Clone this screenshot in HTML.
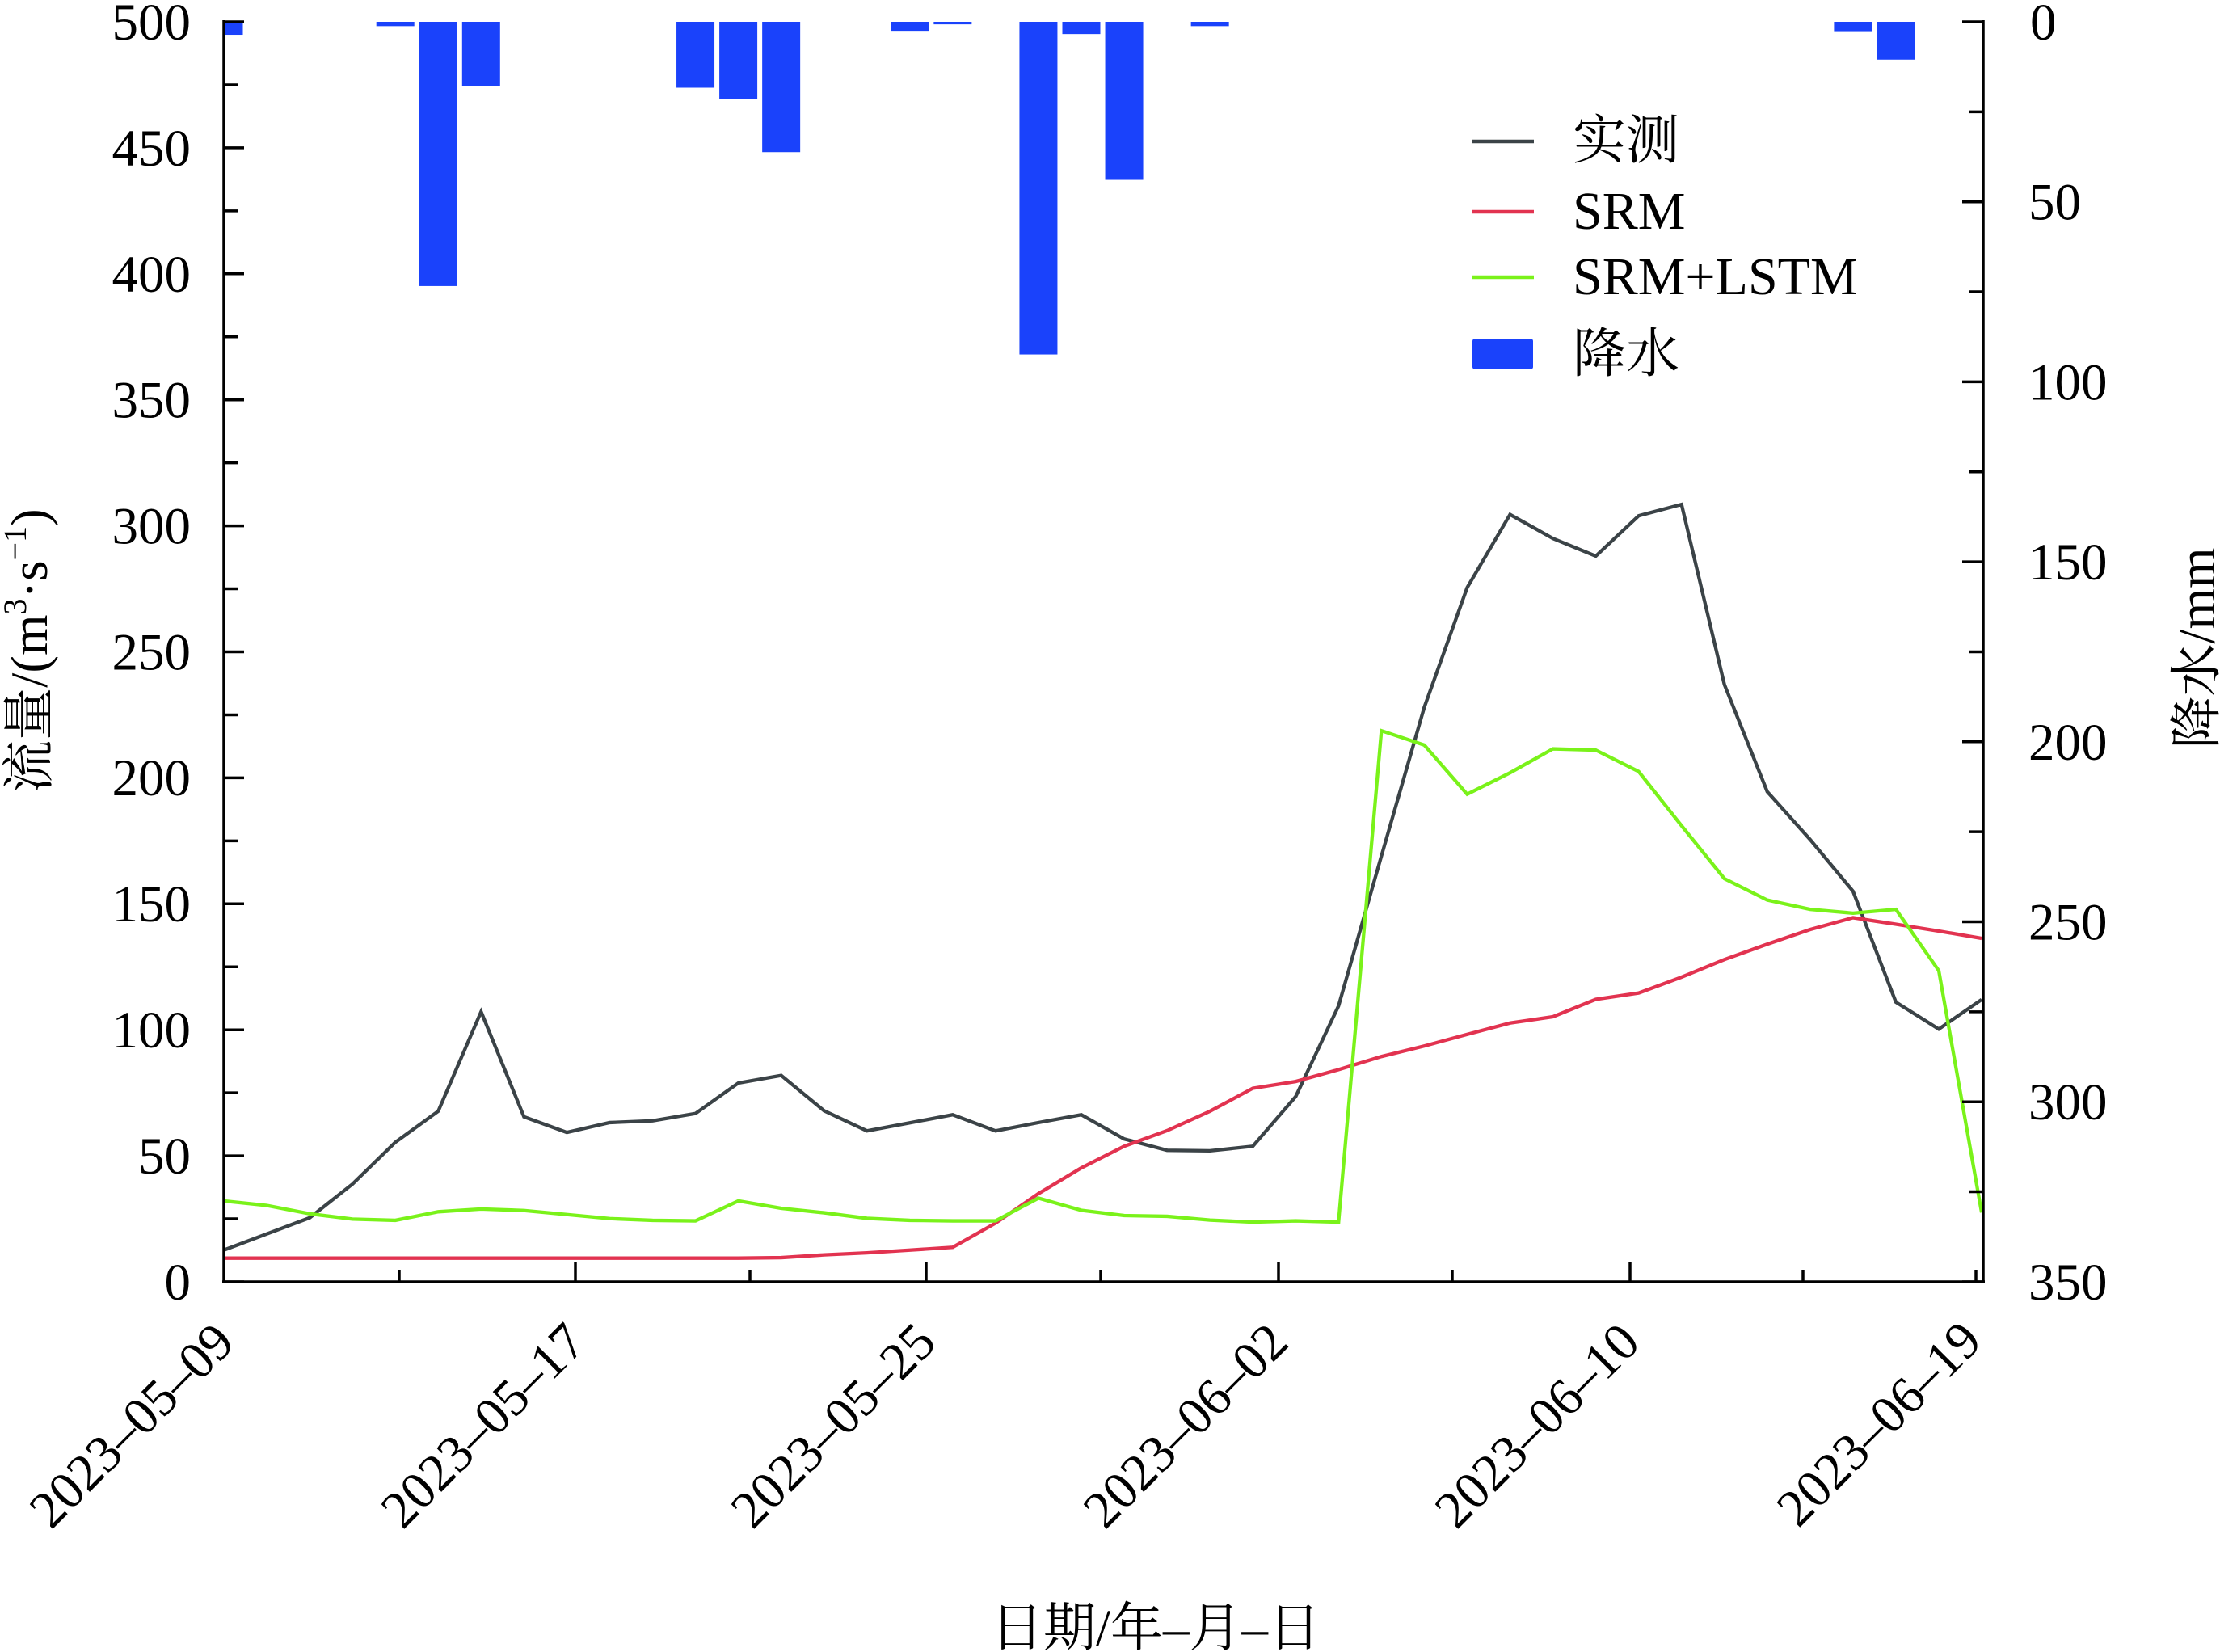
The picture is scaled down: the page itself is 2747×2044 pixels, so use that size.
<!DOCTYPE html>
<html>
<head>
<meta charset="utf-8">
<style>
html,body{margin:0;padding:0;background:#fff;}
svg{display:block;}
</style>
</head>
<body>
<svg width="2747" height="2044" viewBox="0 0 2747 2044" xmlns="http://www.w3.org/2000/svg" font-family="'Liberation Serif','Noto Serif CJK SC',serif">
<defs>
<clipPath id="c"><rect x="277" y="27" width="2177" height="1559"/></clipPath>
</defs>
<rect width="2747" height="2044" fill="#fff"/>

<g clip-path="url(#c)">
  <!-- precipitation bars (right axis, downward) -->
  <g transform="translate(277,27) scale(53.05,4.454)" fill="#1a42fb">
    <rect x="-0.443" y="0" width="0.886" height="3.6"/>
    <rect x="3.557" y="0" width="0.886" height="1.2"/>
    <rect x="4.557" y="0" width="0.886" height="73.4"/>
    <rect x="5.557" y="0" width="0.886" height="17.8"/>
    <rect x="10.557" y="0" width="0.886" height="18.3"/>
    <rect x="11.557" y="0" width="0.886" height="21.4"/>
    <rect x="12.557" y="0" width="0.886" height="36.2"/>
    <rect x="15.557" y="0" width="0.886" height="2.5"/>
    <rect x="16.557" y="0" width="0.886" height="0.7"/>
    <rect x="18.557" y="0" width="0.886" height="92.4"/>
    <rect x="19.557" y="0" width="0.886" height="3.4"/>
    <rect x="20.557" y="0" width="0.886" height="43.9"/>
    <rect x="22.557" y="0" width="0.886" height="1.2"/>
    <rect x="37.557" y="0" width="0.886" height="2.6"/>
    <rect x="38.557" y="0" width="0.886" height="10.5"/>
  </g>
  <!-- lines -->
  <g transform="translate(277,1586) scale(53.05,-3.118)" fill="none" stroke-width="4.3" stroke-linejoin="miter">
    <polyline vector-effect="non-scaling-stroke" stroke="#3b4347" points="0,12.6 1,19 2,25.4 3,38.8 4,55.4 5,67.7 6,107.2 7,65.5 8,59.3 9,63.2 10,63.9 11,66.8 12,78.9 13,81.9 14,67.9 15,59.9 16,63.1 17,66.3 18,59.9 19,63.2 20,66.3 21,56.7 22,52.2 23,52 24,53.8 25,73.5 26,109.5 27,169 28,228 29,275.5 30,304.5 31,295 32,288 33,304 34,308.5 35,237 36,194.5 37,175.5 38,155 39,111 40,100.3 41,112"/>
    <polyline vector-effect="non-scaling-stroke" stroke="#e23350" points="0,9.4 1,9.4 2,9.4 3,9.4 4,9.4 5,9.4 6,9.4 7,9.4 8,9.4 9,9.4 10,9.4 11,9.4 12,9.4 13,9.6 14,10.7 15,11.5 16,12.6 17,13.7 18,23.3 19,35 20,45.2 21,53.8 22,60 23,67.7 24,76.8 25,79.5 26,84.2 27,89.4 28,93.6 29,98.2 30,102.7 31,105.2 32,112.1 33,114.6 34,120.9 35,127.9 36,134 37,139.8 38,144.5 39,141.9 40,139.2 41,136.3"/>
    <polyline vector-effect="non-scaling-stroke" stroke="#7af21a" points="0,32.1 1,30.3 2,27 3,24.9 4,24.4 5,27.8 6,28.9 7,28.3 8,26.7 9,25.1 10,24.4 11,24.2 12,32.1 13,29.2 14,27.4 15,25.2 16,24.4 17,24.2 18,24.2 19,33.2 20,28.4 21,26.3 22,26 23,24.5 24,23.7 25,24.2 26,23.7 27,218.7 28,213 29,193.5 30,202 31,211.5 32,211 33,202.5 34,181 35,160 36,151.5 37,147.8 38,146.3 39,147.8 40,123.5 41,27.5"/>
  </g>
</g>

<!-- axes -->
<g stroke="#000" stroke-width="3.5" fill="none">
  <line x1="277" y1="25" x2="277" y2="1588"/>
  <line x1="275" y1="1586" x2="2456" y2="1586"/>
  <line x1="2454" y1="25" x2="2454" y2="1588"/>
  <!-- left ticks -->
  <path d="M277 1586h25 M277 1508.05h17 M277 1430.1h25 M277 1352.15h17 M277 1274.2h25 M277 1196.25h17 M277 1118.3h25 M277 1040.35h17 M277 962.4h25 M277 884.45h17 M277 806.5h25 M277 728.55h17 M277 650.6h25 M277 572.65h17 M277 494.7h25 M277 416.75h17 M277 338.8h25 M277 260.85h17 M277 182.9h25 M277 104.95h17 M277 27h25"/>
  <!-- right ticks -->
  <path d="M2454 27h-26 M2454 138.35h-17 M2454 249.7h-26 M2454 361.05h-17 M2454 472.4h-26 M2454 583.75h-17 M2454 695.1h-26 M2454 806.45h-17 M2454 917.8h-26 M2454 1029.15h-17 M2454 1140.5h-26 M2454 1251.85h-17 M2454 1363.2h-26 M2454 1474.55h-17 M2454 1586h-26"/>
  <!-- bottom ticks -->
  <path d="M494 1586v-15 M712 1586v-24 M928 1586v-15 M1146 1586v-24 M1362 1586v-15 M1582 1586v-24 M1797 1586v-15 M2017 1586v-24 M2231 1586v-15 M2445 1586v-15"/>
</g>

<!-- left tick labels -->
<g font-size="65" text-anchor="end" fill="#000">
  <text x="236" y="1608">0</text>
  <text x="236" y="1452">50</text>
  <text x="236" y="1296">100</text>
  <text x="236" y="1140">150</text>
  <text x="236" y="984">200</text>
  <text x="236" y="828.5">250</text>
  <text x="236" y="672.6">300</text>
  <text x="236" y="516.7">350</text>
  <text x="236" y="360.8">400</text>
  <text x="236" y="204.9">450</text>
  <text x="236" y="49">500</text>
</g>
<!-- right tick labels -->
<g font-size="65" text-anchor="start" fill="#000">
  <text x="2512" y="49">0</text>
  <text x="2510" y="271.7">50</text>
  <text x="2510" y="494.4">100</text>
  <text x="2510" y="717.1">150</text>
  <text x="2510" y="939.8">200</text>
  <text x="2510" y="1162.5">250</text>
  <text x="2510" y="1385.2">300</text>
  <text x="2510" y="1608">350</text>
</g>
<!-- x tick labels -->
<g font-size="65" text-anchor="end" fill="#000">
  <text transform="translate(293,1664) rotate(-45)">2023–05–09</text>
  <text transform="translate(728,1664) rotate(-45)">2023–05–17</text>
  <text transform="translate(1161,1664) rotate(-45)">2023–05–25</text>
  <text transform="translate(1597,1664) rotate(-45)">2023–06–02</text>
  <text transform="translate(2032,1664) rotate(-45)">2023–06–10</text>
  <text transform="translate(2455,1662) rotate(-45)">2023–06–19</text>
</g>

<!-- axis titles -->
<text x="1430" y="2036" font-size="65" text-anchor="middle" fill="#000">日期/年–月–日</text>
<text transform="translate(58,805) rotate(-90)" font-size="65" text-anchor="middle" fill="#000">流量/(m<tspan font-size="40" dy="-26">3</tspan><tspan dy="26">·s</tspan><tspan font-size="40" dy="-26">−1</tspan><tspan dy="26">)</tspan></text>
<text transform="translate(2740,802) rotate(-90)" font-size="65" text-anchor="middle" fill="#000">降水/mm</text>

<!-- legend -->
<g stroke-width="4.5">
  <line x1="1822" y1="175" x2="1898" y2="175" stroke="#3b4347"/>
  <line x1="1822" y1="262" x2="1898" y2="262" stroke="#e23350"/>
  <line x1="1822" y1="343" x2="1898" y2="343" stroke="#7af21a"/>
</g>
<rect x="1822" y="419" width="75" height="38" rx="3" fill="#1a42fb"/>
<g font-size="66" fill="#000">
  <text x="1946" y="196">实测</text>
  <text x="1946" y="283">SRM</text>
  <text x="1946" y="364">SRM+LSTM</text>
  <text x="1946" y="460">降水</text>
</g>
</svg>
</body>
</html>
